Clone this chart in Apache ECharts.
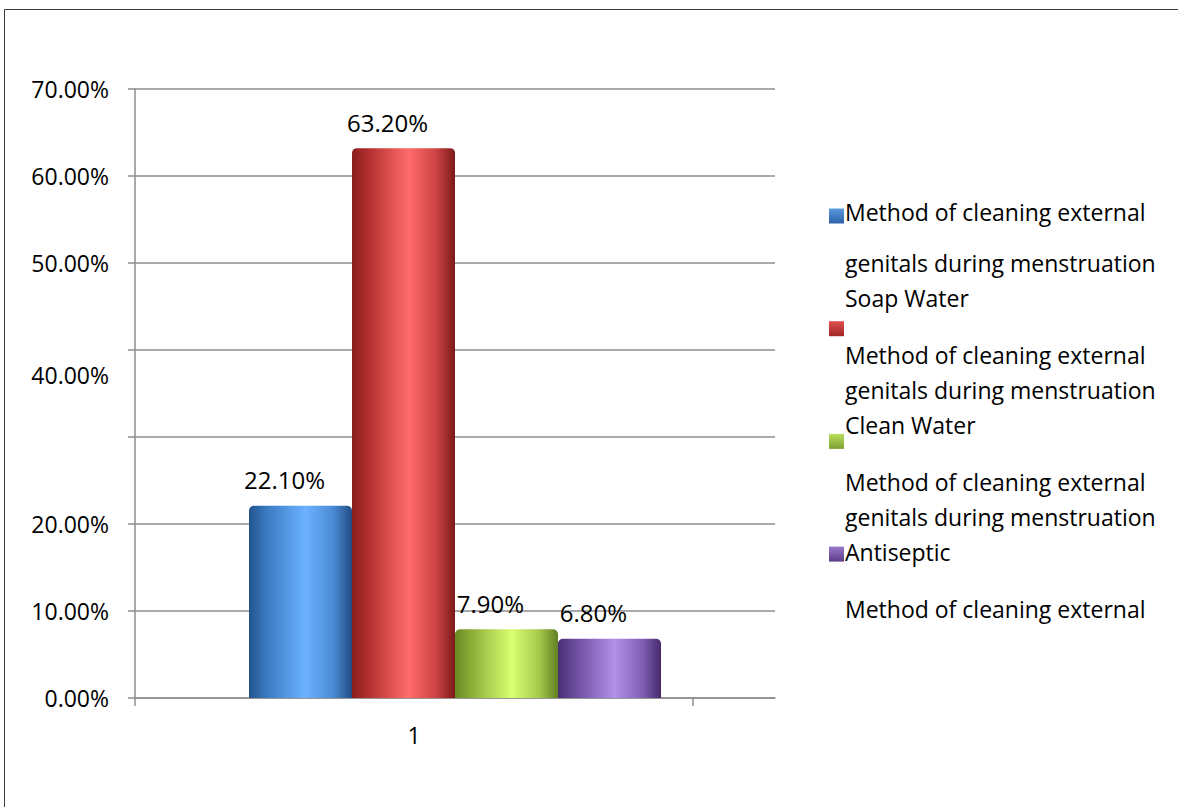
<!DOCTYPE html>
<html>
<head>
<meta charset="utf-8">
<script src="https://cdn.jsdelivr.net/npm/echarts/dist/echarts.min.js"></script>
<style>
  html, body { margin: 0; padding: 0; background: #ffffff; }
  #chart { width: 1178px; height: 807px; }
</style>
</head>
<body>
<div id="chart"></div>
<script>
// ---- data ----
const categories = ['1'];
const seriesNames = [
  'Method of cleaning external genitals during menstruation Soap Water',
  'Method of cleaning external genitals during menstruation Clean Water',
  'Method of cleaning external genitals during menstruation Antiseptic',
  'Method of cleaning external genitals during menstruation Other'
];
const seriesValues = [22.1, 63.2, 7.9, 6.8];
const yTickValues = [0, 10, 20, 30, 40, 50, 60, 70];
const yTickLabels = ['0.00%', '10.00%', '20.00%', '', '40.00%', '50.00%', '60.00%', '70.00%'];

// ---- styling ----
const FONT = '"Open Sans", "Liberation Sans", sans-serif';
const GRID_COLOR = '#8e8e8e';
const barGradients = [
  ['#23548e', '#3b7cc4', '#6cb2ff', '#4a8ad4', '#214c82'],
  ['#8a1d1d', '#b83232', '#ff6b6b', '#cc4242', '#7a1a1a'],
  ['#6a8a26', '#8fb23a', '#d9ff72', '#a4c84a', '#617f22'],
  ['#4a2f72', '#6e4ea0', '#b290ea', '#8060b4', '#452a6a']
];
const iconGradients = [
  ['#5d9ae0', '#2a62a6'],
  ['#e05050', '#a02626'],
  ['#b8e05a', '#7ea032'],
  ['#9a78cc', '#5c3c88']
];

function gradient(stops) {
  return new echarts.graphic.LinearGradient(0, 0, 1, 0, [
    { offset: 0, color: stops[0] },
    { offset: 0.18, color: stops[1] },
    { offset: 0.55, color: stops[2] },
    { offset: 0.82, color: stops[3] },
    { offset: 1, color: stops[4] }
  ]);
}

const chart = echarts.init(document.getElementById('chart'), null, { renderer: 'svg' });

// legend entries: one component per series so the swatches can be spaced freely
const legends = seriesNames.map((name, i) => ({
  data: [{
    name: name,
    itemStyle: {
      color: new echarts.graphic.LinearGradient(0, 0, 0, 1, [
        { offset: 0, color: iconGradients[i][0] },
        { offset: 1, color: iconGradients[i][1] }
      ])
    }
  }],
  orient: 'vertical',
  left: 824,
  top: 203.5 + i * 112.7,
  itemWidth: 15,
  itemHeight: 15,
  icon: 'rect',
  selectedMode: false,
  formatter: () => '',
  textStyle: { fontSize: 1 }
}));

// legend text, wrapped into three lines per entry
const legendText = [];
seriesNames.forEach((name, k) => {
  const words = name.split(' ');
  const lines = [words.slice(0, 4).join(' '), words.slice(4, 7).join(' '), words.slice(7).join(' ')];
  lines.forEach((line, j) => {
    let y = 228 + k * 127 + j * 35;
    if (k === 0 && j === 0) y = 212;
    if (y > 625) return;
    legendText.push({
      type: 'text',
      x: 845,
      y: y,
      style: {
        text: line,
        fill: '#000000',
        font: '23px ' + FONT,
        verticalAlign: 'middle',
        align: 'left'
      },
      silent: true
    });
  });
});

const option = {
  backgroundColor: '#ffffff',
  animation: false,
  textStyle: { fontFamily: FONT },
  legend: legends,
  graphic: [
    {
      type: 'rect',
      shape: { x: 4.5, y: 9.5, width: 1400, height: 1000 },
      style: { fill: 'none', stroke: '#3a3a3a', lineWidth: 1 },
      silent: true,
      z: -10
    }
  ].concat(legendText),
  grid: [
    { left: 135, right: 403, top: 89, bottom: 109, containLabel: false, outerBoundsMode: 'none' },
    { left: 135, right: 485, top: 89, bottom: 109, containLabel: false, outerBoundsMode: 'none' }
  ],
  xAxis: [
    {
      type: 'category',
      gridIndex: 0,
      data: categories,
      axisLine: { show: true, lineStyle: { color: GRID_COLOR, width: 1.5 } },
      axisTick: { show: false },
      axisLabel: { show: false },
      splitLine: { show: false }
    },
    {
      type: 'category',
      gridIndex: 1,
      data: categories,
      axisLine: { show: false },
      axisTick: { show: true, length: 8, lineStyle: { color: GRID_COLOR, width: 1.5 } },
      axisLabel: { show: true, margin: 25, color: '#000000', fontSize: 23, fontFamily: FONT },
      splitLine: { show: false }
    }
  ],
  yAxis: [
    {
      type: 'value',
      gridIndex: 0,
      min: 0,
      max: 70,
      interval: 10,
      axisLine: { show: true, lineStyle: { color: GRID_COLOR, width: 1.5 } },
      axisTick: { show: true, length: 7, lineStyle: { color: GRID_COLOR, width: 1.5 } },
      splitLine: { show: true, lineStyle: { color: GRID_COLOR, width: 1.5 } },
      axisLabel: {
        margin: 26,
        color: '#000000',
        fontSize: 23,
        fontFamily: FONT,
        formatter: function (v) {
          const idx = yTickValues.indexOf(Math.round(v));
          const text = idx >= 0 ? yTickLabels[idx] : '';
          if (Math.round(v) === 40) return '{low|' + text + '}';
          return text;
        },
        rich: {
          low: { fontSize: 23, fontFamily: FONT, color: '#000000', padding: [50, 0, 0, 0] }
        }
      }
    },
    {
      type: 'value',
      gridIndex: 1,
      min: 0,
      max: 70,
      show: false,
      splitLine: { show: false }
    }
  ],
  series: seriesNames.map((name, i) => ({
    type: 'bar',
    name: name,
    xAxisIndex: 0,
    yAxisIndex: 0,
    data: [seriesValues[i]],
    barWidth: 103,
    barGap: '0%',
    itemStyle: {
      color: gradient(barGradients[i]),
      borderRadius: [5, 5, 0, 0]
    },
    label: {
      show: true,
      position: 'top',
      distance: 14,
      offset: [-16, 0],
      color: '#000000',
      fontSize: 24,
      fontFamily: FONT,
      formatter: (p) => p.value.toFixed(2) + '%'
    }
  }))
};

chart.setOption(option);
</script>
</body>
</html>
